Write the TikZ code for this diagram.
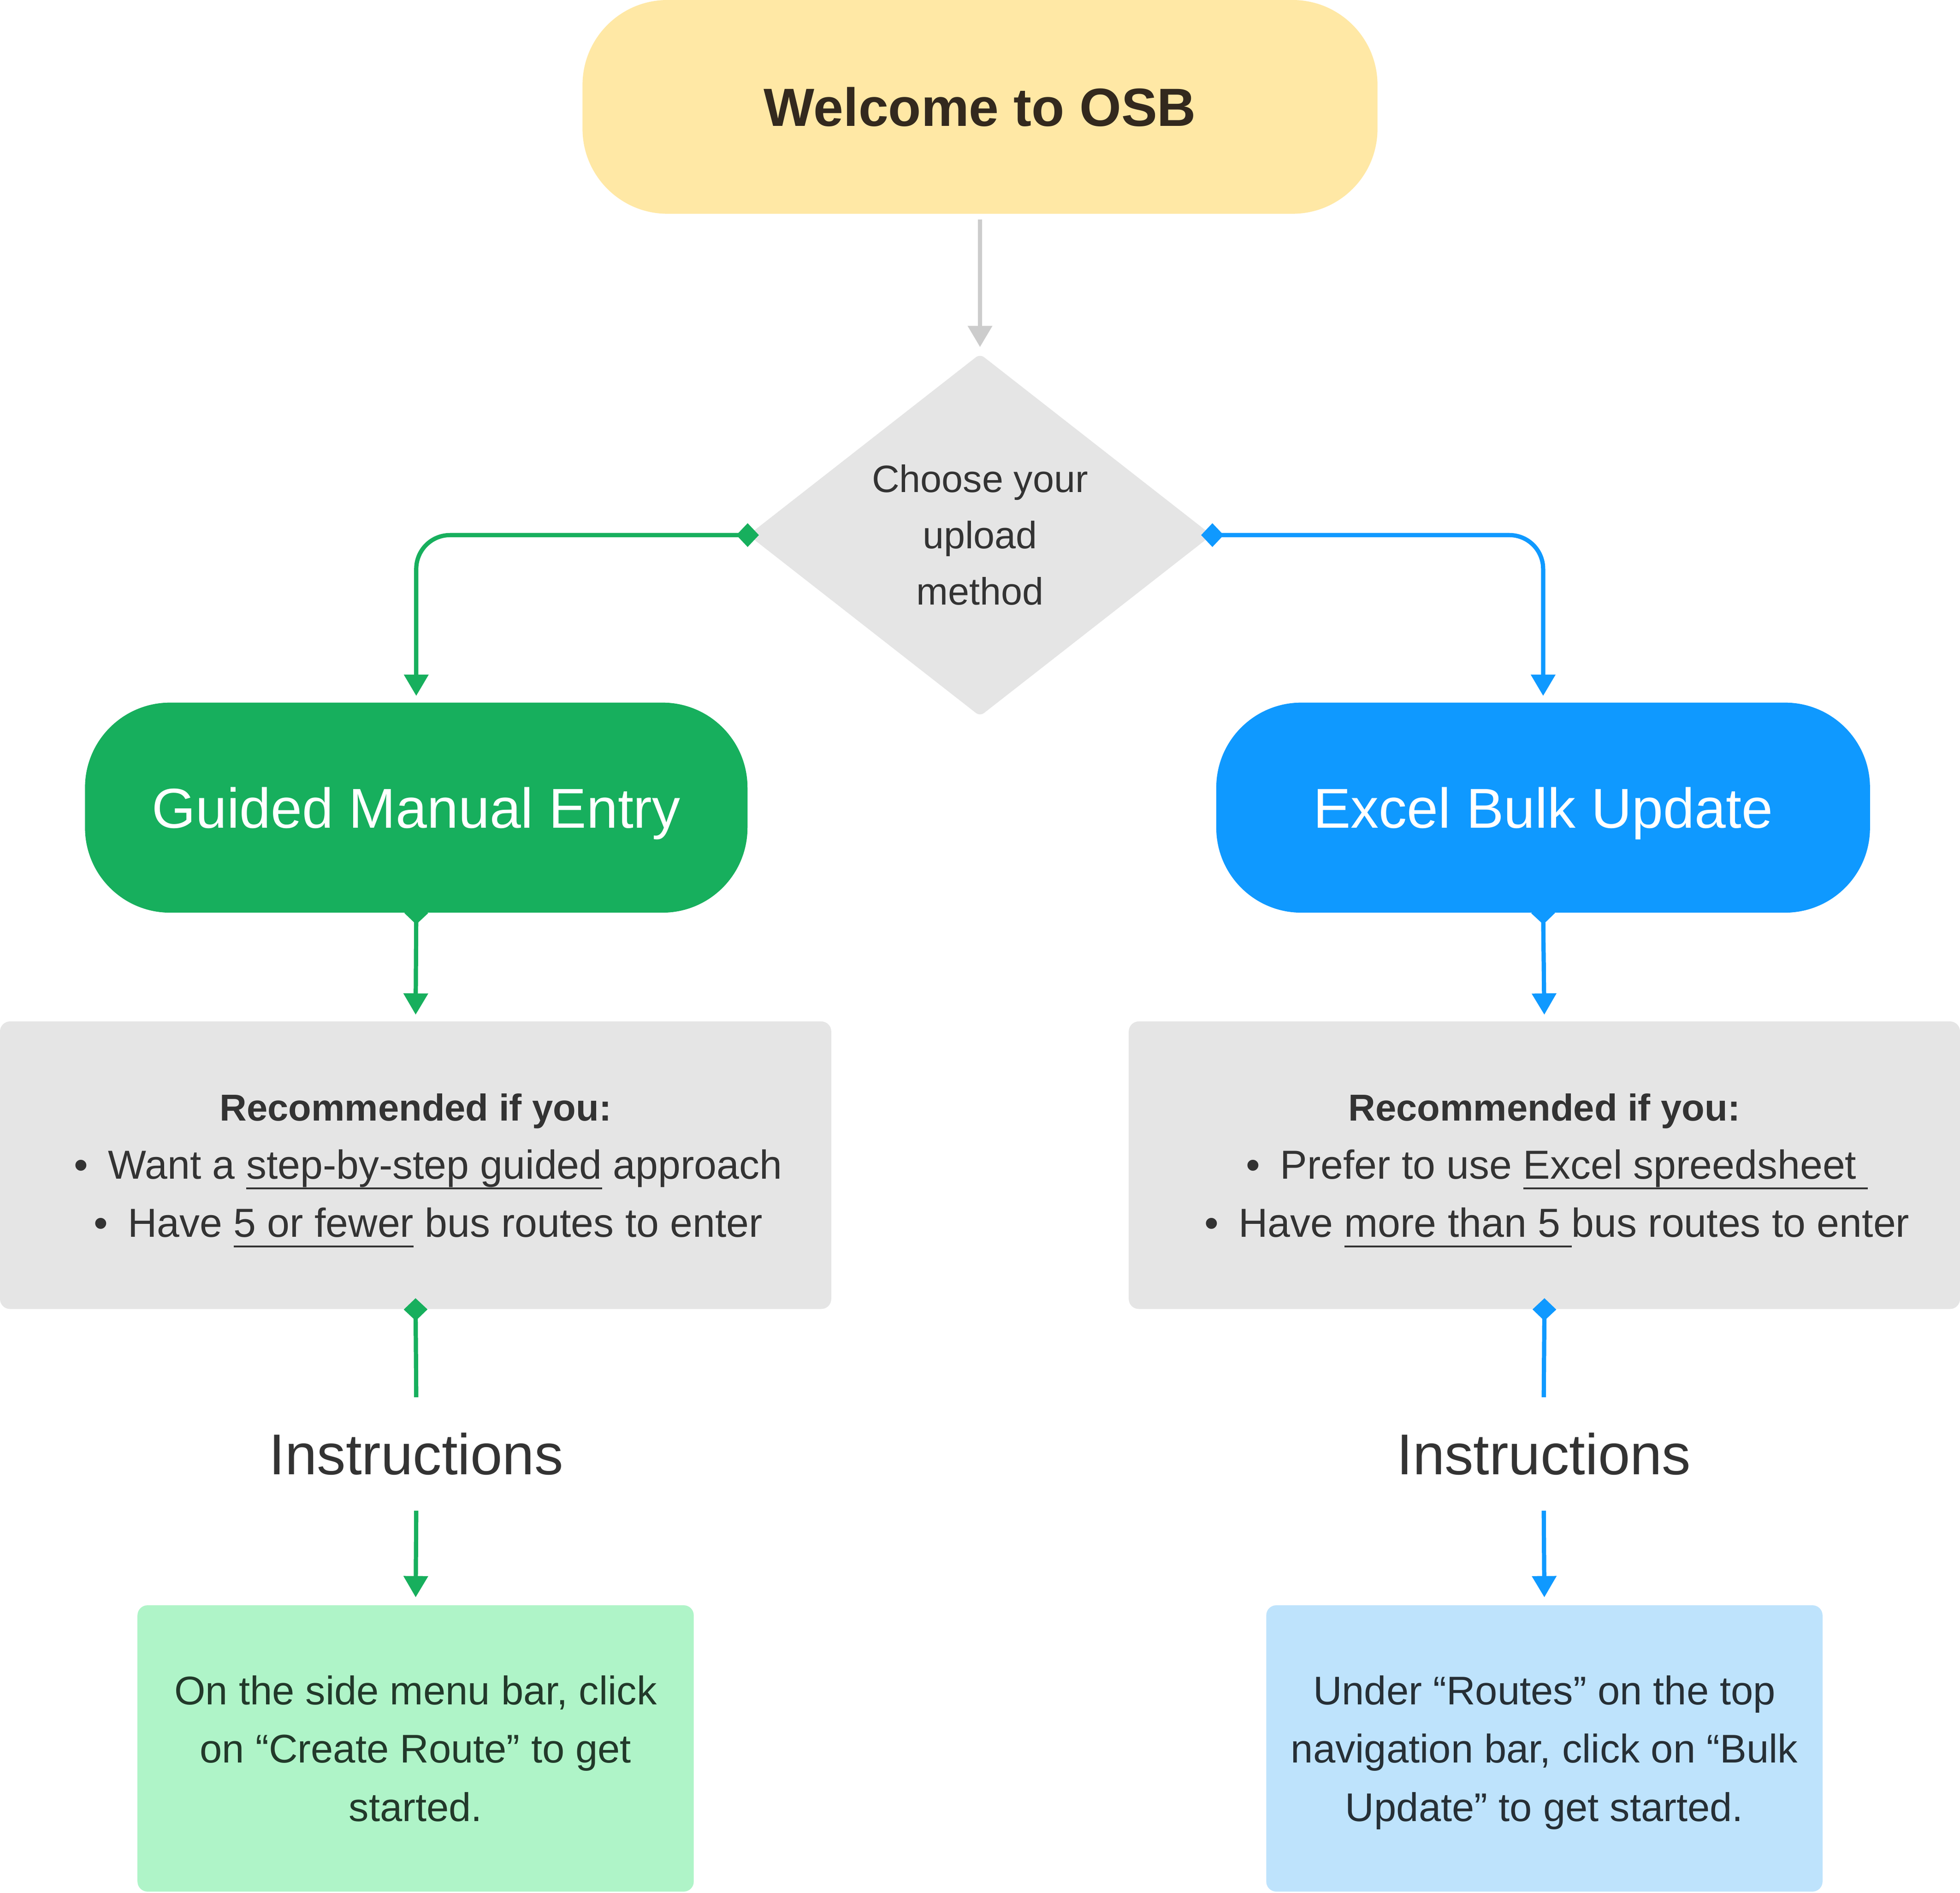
\documentclass[tikz,border=0pt]{standalone}
\usepackage{fontspec}
\setmainfont{Liberation Sans}
\usetikzlibrary{arrows.meta,shapes.geometric}

\definecolor{osbyellow}{HTML}{FFE8A5}
\definecolor{osbbrown}{HTML}{33291E}
\definecolor{osbgreen}{HTML}{17AF5D}
\definecolor{osbblue}{HTML}{0F99FF}
\definecolor{osbgray}{HTML}{E5E5E5}
\definecolor{osbline}{HTML}{CCCCCC}
\definecolor{osbtext}{HTML}{333333}
\definecolor{osbmint}{HTML}{AFF4C8}
\definecolor{osbminttext}{HTML}{22392A}
\definecolor{osbsky}{HTML}{BEE3FC}
\definecolor{osbskytext}{HTML}{262F36}

\newcommand{\bul}{\hspace*{10pt}\textbullet\hspace{8pt}}
\newcommand{\osbul}[1]{\setbox0\hbox{#1}\rlap{\rule[-4.2pt]{\wd0}{0.75pt}}\box0\relax}

\begin{document}
\begin{tikzpicture}[x=0.5pt,y=-0.5pt]
            \useasboundingbox (0,0) rectangle (1568,1513.8);
            \tikzset{
              pill/.style={rectangle,rounded corners=34pt,minimum width=#1,minimum height=84pt,inner sep=0pt,text height=16.1pt,text depth=0pt,text=white,font=\fontsize{22.5}{26}\selectfont},
              card/.style={rectangle,rounded corners=4pt,fill=osbgray,inner sep=0pt,text depth=0pt,align=center,text=osbtext,font=\fontsize{16.2}{23.25}\selectfont},
              link/.style={line width=1.7pt,-{Triangle[width=9.5pt,length=8.5pt]}},
              knob/.style={line width=1.7pt,{Diamond[length=9pt,width=9.5pt]}-{Triangle[width=9.5pt,length=8.5pt]},shorten <=-4.5pt},
              knobonly/.style={line width=1.7pt,{Diamond[length=9pt,width=9.5pt]}-,shorten <=-4.5pt}
            }

            \node[pill=318pt,minimum height=85.5pt,fill=osbyellow,text=osbbrown,text height=15.4pt,font=\bfseries\fontsize{21.5}{26}\selectfont] (welcome) at (784,85.5) {Welcome to OSB};
            \node[diamond,aspect=1.28,minimum width=185.5pt,minimum height=145pt,inner sep=0pt,rounded corners=2pt,fill=osbgray,align=center,text=osbtext,font=\fontsize{15.25}{22.5}\selectfont] (method) at (784,428) {Choose your\\upload\\method};

            \node[pill=265pt,fill=osbgreen] (manual) at (333,646) {Guided Manual Entry};
            \node[pill=261.5pt,fill=osbblue] (bulk) at (1234.5,646) {Excel Bulk Update};

            \node[card,minimum width=332.5pt,minimum height=115pt] (whyman) at (332.5,932) {{\bfseries\fontsize{15}{23.25}\selectfont Recommended if you:}\\\bul Want a \osbul{step-by-step guided} approach\\\bul Have \osbul{5 or fewer} bus routes to enter};
            \node[card,minimum width=332.5pt,minimum height=115pt] (whybulk) at (1235.5,932) {{\bfseries\fontsize{15}{23.25}\selectfont Recommended if you:}\\\bul Prefer to use \osbul{Excel spreedsheet\ }\\\bul Have \osbul{more than 5\ }bus routes to enter};

            \node[minimum height=45pt,inner sep=0pt,text=osbtext,font=\fontsize{23}{26}\selectfont] (howman) at (333,1163) {Instructions};
            \node[minimum height=45pt,inner sep=0pt,text=osbtext,font=\fontsize{23}{26}\selectfont] (howbulk) at (1235,1163) {Instructions};

            \node[card,minimum width=222.5pt,minimum height=114.5pt,fill=osbmint,text=osbminttext,font=\fontsize{16}{23.25}\selectfont] (stepman) at (332.5,1398.5) {On the side menu bar, click\\on “Create Route” to get\\started.};
            \node[card,minimum width=222.5pt,minimum height=114.5pt,fill=osbsky,text=osbskytext,font=\fontsize{16}{23.25}\selectfont] (stepbulk) at (1235.5,1398.5) {Under “Routes” on the top\\navigation bar, click on “Bulk\\Update” to get started.};

            \draw[link,osbline,shorten <=2pt,shorten >=2.5pt] (welcome.south) -- (method.north);

            \draw[knob,osbgreen,rounded corners=13.5pt,shorten >=2.5pt] (method.west) -| (manual.north);
            \draw[knob,osbgreen,shorten >=2.5pt] (manual.south) -- (whyman.north);
            \draw[knobonly,osbgreen] (whyman.south) -- (howman.north);
            \draw[link,osbgreen,shorten >=3pt] (howman.south) -- (stepman.north);

            \draw[knob,osbblue,rounded corners=13.5pt,shorten >=2.5pt] (method.east) -| (bulk.north);
            \draw[knob,osbblue,shorten >=2.5pt] (bulk.south) -- (whybulk.north);
            \draw[knobonly,osbblue] (whybulk.south) -- (howbulk.north);
            \draw[link,osbblue,shorten >=3pt] (howbulk.south) -- (stepbulk.north);
          \end{tikzpicture}
\end{document}
